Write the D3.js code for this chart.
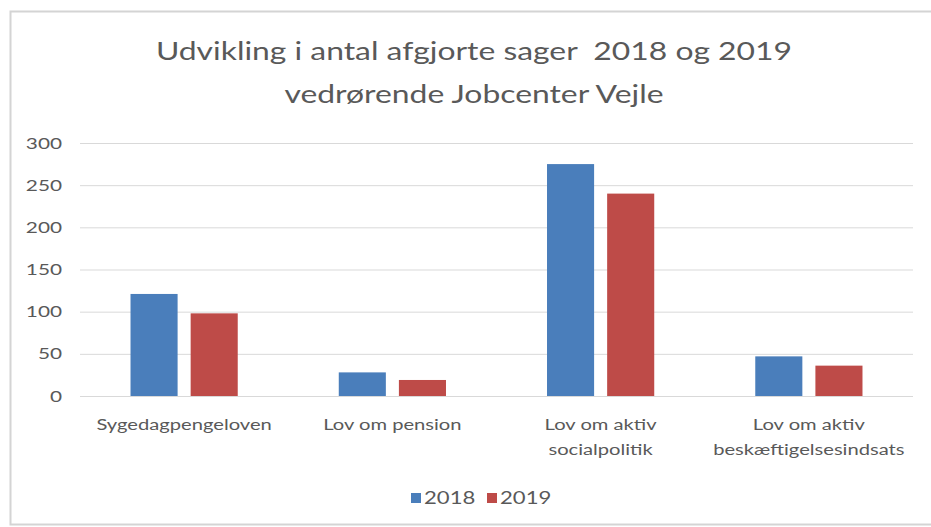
<!DOCTYPE html>
<html>
<head>
<meta charset="utf-8">
<script src="https://cdn.jsdelivr.net/npm/d3@7"></script>
<style>
  body { margin: 0; background: #fff; }
  svg { display: block; font-family: Lato, "Open Sans", sans-serif; }
</style>
</head>
<body>
<svg id="chart" width="931" height="527"></svg>
<script>
const categories = [
  ["Sygedagpengeloven"],
  ["Lov om pension"],
  ["Lov om aktiv", "socialpolitik"],
  ["Lov om aktiv", "beskæftigelsesindsats"],
];
const years = ["2018", "2019"];
const values2018 = [121, 28, 275, 47];
const values2019 = [98, 19, 240, 36];
const yTicks = [0, 50, 100, 150, 200, 250, 300];
const titleLines = [
  "Udvikling i antal afgjorte sager  2018 og 2019",
  "vedrørende Jobcenter Vejle",
];

const colors = { "2018": "#4a7ebb", "2019": "#be4b48" };
const textColor = "#595959";
// the source picture is stretched sideways, so text is widened a bit
const textStretch = 1.3;

const width = 931,
  height = 527,
  margin = { left: 80, right: 18, top: 143, bottom: 131 };

const stretch = (sel) => {
  sel.each(function () {
    const len = this.getComputedTextLength();
    d3.select(this)
      .attr("textLength", len * textStretch)
      .attr("lengthAdjust", "spacingAndGlyphs");
  });
};

const svg = d3.select("#chart");

// frame
svg.append("rect")
  .attr("x", 10.5).attr("y", 11.5)
  .attr("width", width).attr("height", 513)
  .attr("fill", "#fff")
  .attr("stroke", "#d4d4d4")
  .attr("stroke-width", 2);

const catIdx = categories.map((d, i) => i);
const x0 = d3.scaleBand()
  .domain(catIdx)
  .range([margin.left, width - margin.right])
  .padding(0);

const x1 = d3.scaleBand()
  .domain(years)
  .range([0, x0.bandwidth()])
  .paddingInner(0.217)
  .paddingOuter(0.84);

const y = d3.scaleLinear()
  .domain([0, 300])
  .range([height - margin.bottom, margin.top]);

// gridlines + y labels
const yAxis = d3.axisLeft(y)
  .tickValues(yTicks)
  .tickSize(-(width - margin.left - margin.right))
  .tickPadding(18);

svg.append("g")
  .attr("transform", `translate(${margin.left},0)`)
  .call(yAxis)
  .call((g) => {
    g.select(".domain").remove();
    g.selectAll(".tick line").attr("stroke", "#d9d9d9").attr("stroke-width", 1);
    g.selectAll(".tick text")
      .attr("fill", textColor)
      .attr("font-size", 16)
      .attr("font-family", "Lato, sans-serif")
      .call(stretch);
  });

// bars
const rows = catIdx.map((i) => ({ i, "2018": values2018[i], "2019": values2019[i] }));

svg.append("g")
  .selectAll("g")
  .data(rows)
  .join("g")
  .attr("transform", (d) => `translate(${x0(d.i)},0)`)
  .selectAll("rect")
  .data((d) => years.map((k) => ({ key: k, value: d[k] })))
  .join("rect")
  .attr("x", (d) => x1(d.key))
  .attr("width", x1.bandwidth())
  .attr("y", (d) => y(d.value))
  .attr("height", (d) => y(0) - y(d.value))
  .attr("fill", (d) => colors[d.key]);

// category labels
const catLabels = svg.append("g")
  .selectAll("text")
  .data(rows)
  .join("text")
  .attr("x", (d) => x0(d.i) + x0.bandwidth() / 2)
  .attr("y", y(0) + 34)
  .attr("text-anchor", "middle")
  .attr("fill", textColor)
  .attr("font-size", 15.5);

catLabels.selectAll("tspan")
  .data((d) => categories[d.i])
  .join("tspan")
  .attr("x", function () { return this.parentNode.getAttribute("x"); })
  .attr("dy", (d, j) => (j === 0 ? 0 : 25))
  .text((d) => d)
  .call(stretch);

// title
svg.append("g")
  .selectAll("text")
  .data(titleLines)
  .join("text")
  .attr("x", 474)
  .attr("y", (d, i) => 60 + i * 43)
  .attr("text-anchor", "middle")
  .attr("fill", textColor)
  .attr("font-size", 24.5)
  .style("white-space", "pre")
  .text((d) => d)
  .call(stretch);

// legend
const legend = svg.append("g").attr("transform", "translate(411,493)");
const legendItems = legend.selectAll("g")
  .data(years)
  .join("g")
  .attr("transform", (d, i) => `translate(${i * 76},0)`);
legendItems.append("rect")
  .attr("width", 10).attr("height", 10)
  .attr("fill", (d) => colors[d]);
legendItems.append("text")
  .attr("x", 13).attr("y", 11)
  .attr("fill", textColor)
  .attr("font-size", 17)
  .text((d) => d)
  .call(stretch);
</script>
</body>
</html>
